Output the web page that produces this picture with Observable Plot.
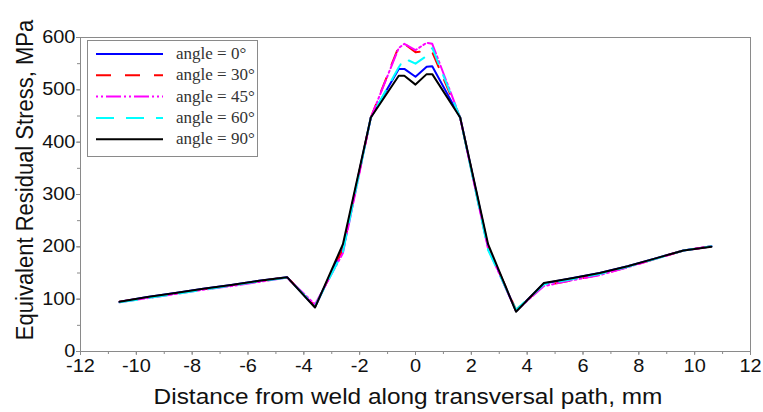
<!DOCTYPE html>
<html><head><meta charset="utf-8">
<script src="https://cdn.jsdelivr.net/npm/d3@7"></script>
<script src="https://cdn.jsdelivr.net/npm/@observablehq/plot@0.6"></script>
<style>body{margin:0;background:#fff}</style>
</head><body><div id="chart"></div>
<script>
const xs = [-10.6,-9.6,-8.6,-7.6,-6.6,-5.6,-4.6,-3.6,-2.6,-1.6,-0.6,-0.4,0,0.4,0.6,1.6,2.6,3.6,4.6,5.6,6.6,7.6,8.6,9.6,10.6];
const angle0  = [95,104,112,120,127,135,142,85,197,447,540,540,525,544,545,447,200,77,130,140,150,163,178,193,201];
const angle30 = [95,103,111,119,126,134,142,87,195,447,583,588,572,574,572,447,198,80,126,136,147,161,177,193,201];
const angle45 = [94,102,110,118,125,133,141,90,188,447,580,588,576,590,588,447,196,78,125,136,146,161,177,193,201];
const angle60 = [94,102,110,118,126,134,141,87,190,447,543,560,550,565,580,447,194,80,128,138,148,162,177,193,201];
const angle90 = [95,104,112,120,127,135,142,84,205,447,527,527,510,530,530,447,205,76,131,140,150,163,178,193,200];
const seriesNames = ["angle = 0°","angle = 30°","angle = 45°","angle = 60°","angle = 90°"];
const xTicks = [-12,-10,-8,-6,-4,-2,0,2,4,6,8,10,12];
const xMinor = [-12,-11,-10,-9,-8,-7,-6,-5,-4,-3,-2,-1,0,1,2,3,4,5,6,7,8,9,10,11,12];
const yTicks = [0,100,200,300,400,500,600];
const yMinor = [0,50,100,150,200,250,300,350,400,450,500,550,600];
const xTitle = "Distance from weld along transversal path, mm";
const yTitle = "Equivalent Residual Stress, MPa";

const styles = [
  {color:"#0000ff", dash:null},
  {color:"#ff0000", dash:"15,14"},
  {color:"#ff00ff", dash:"2,3,2,3,15,3"},
  {color:"#00ffff", dash:"18,12"},
  {color:"#000000", dash:null}
];
const valuesList = [angle0, angle30, angle45, angle60, angle90];
const series = seriesNames.map((name,k)=>({name, values:valuesList[k], ...styles[k]}));
const rows = series.flatMap(s => xs.map((x,i)=>({series:s.name, x, y:s.values[i]})));

const plot = Plot.plot({
  width:763, height:412,
  marginLeft:80, marginRight:13, marginTop:37, marginBottom:61,
  style:{fontFamily:"'Liberation Sans', Arial, sans-serif", background:"white", color:"#111"},
  x:{domain:[-12,12]},
  y:{domain:[0,600]},
  marks:[
    Plot.axisX(xMinor, {tickSize:3, tickFormat:()=>"", label:null, stroke:"#8a8a8a"}),
    Plot.axisY(yMinor, {tickSize:3, tickFormat:()=>"", label:null, stroke:"#8a8a8a"}),
    Plot.axisX(xTicks, {tickSize:4, tickPadding:4, tickFormat:d=>String(d), fontSize:17.5, label:null, stroke:"#8a8a8a", fill:"#111", ariaLabel:"xticks"}),
    Plot.axisY(yTicks, {tickSize:4, tickPadding:1, tickFormat:d=>String(d), fontSize:17.5, label:null, stroke:"#8a8a8a", fill:"#111", ariaLabel:"yticks"}),
    ...series.map(s => Plot.line(rows.filter(r=>r.series===s.name), {x:"x", y:"y", stroke:s.color, strokeWidth:2, strokeDasharray:s.dash})),
    Plot.frame({stroke:"#8a8a8a"})
  ]
});
document.getElementById("chart").appendChild(plot);

const svg = d3.select(plot);
// widen tick labels horizontally like the reference
function stretch(sel, s, anchor){
  sel.each(function(){
    const t = this; if(!t.textContent) return;
    const bb = t.getBBox();
    const cx = anchor==="end" ? bb.x+bb.width : bb.x+bb.width/2;
    const old = t.getAttribute("transform") || "";
    t.setAttribute("transform", `${old} translate(${cx},0) scale(${s},1) translate(${-cx},0)`);
  });
}
stretch(svg.selectAll('g[aria-label="xticks tick label"] text, g[aria-label="x-axis tick label"] text'), 1.14, "middle");
stretch(svg.selectAll('g[aria-label="yticks tick label"] text, g[aria-label="y-axis tick label"] text'), 1.14, "end");
// axis titles
svg.append("text").attr("transform","translate(408,404) scale(1.11,1)").attr("text-anchor","middle")
  .attr("font-size",22).attr("fill","#111").text(xTitle);
svg.append("text").attr("transform","translate(33,180) scale(1.11,1) rotate(-90)").attr("text-anchor","middle")
  .attr("font-size",22).attr("fill","#111").text(yTitle);
// legend
const lg = svg.append("g");
lg.append("rect").attr("x",87.5).attr("y",40.5).attr("width",170).attr("height",116)
  .attr("fill","white").attr("stroke","#8a8a8a");
series.forEach((s,i)=>{
  const y = 54 + i*21.3;
  lg.append("line").attr("x1",96).attr("x2",163).attr("y1",y).attr("y2",y)
    .attr("stroke",s.color).attr("stroke-width",2).attr("stroke-dasharray",s.dash);
  lg.append("text").attr("x",176).attr("y",y+5).attr("text-anchor","start")
    .attr("font-family","'Liberation Serif', 'DejaVu Serif', serif")
    .attr("font-size",17).attr("fill","#333").text(s.name);
});
</script>
</body></html>
